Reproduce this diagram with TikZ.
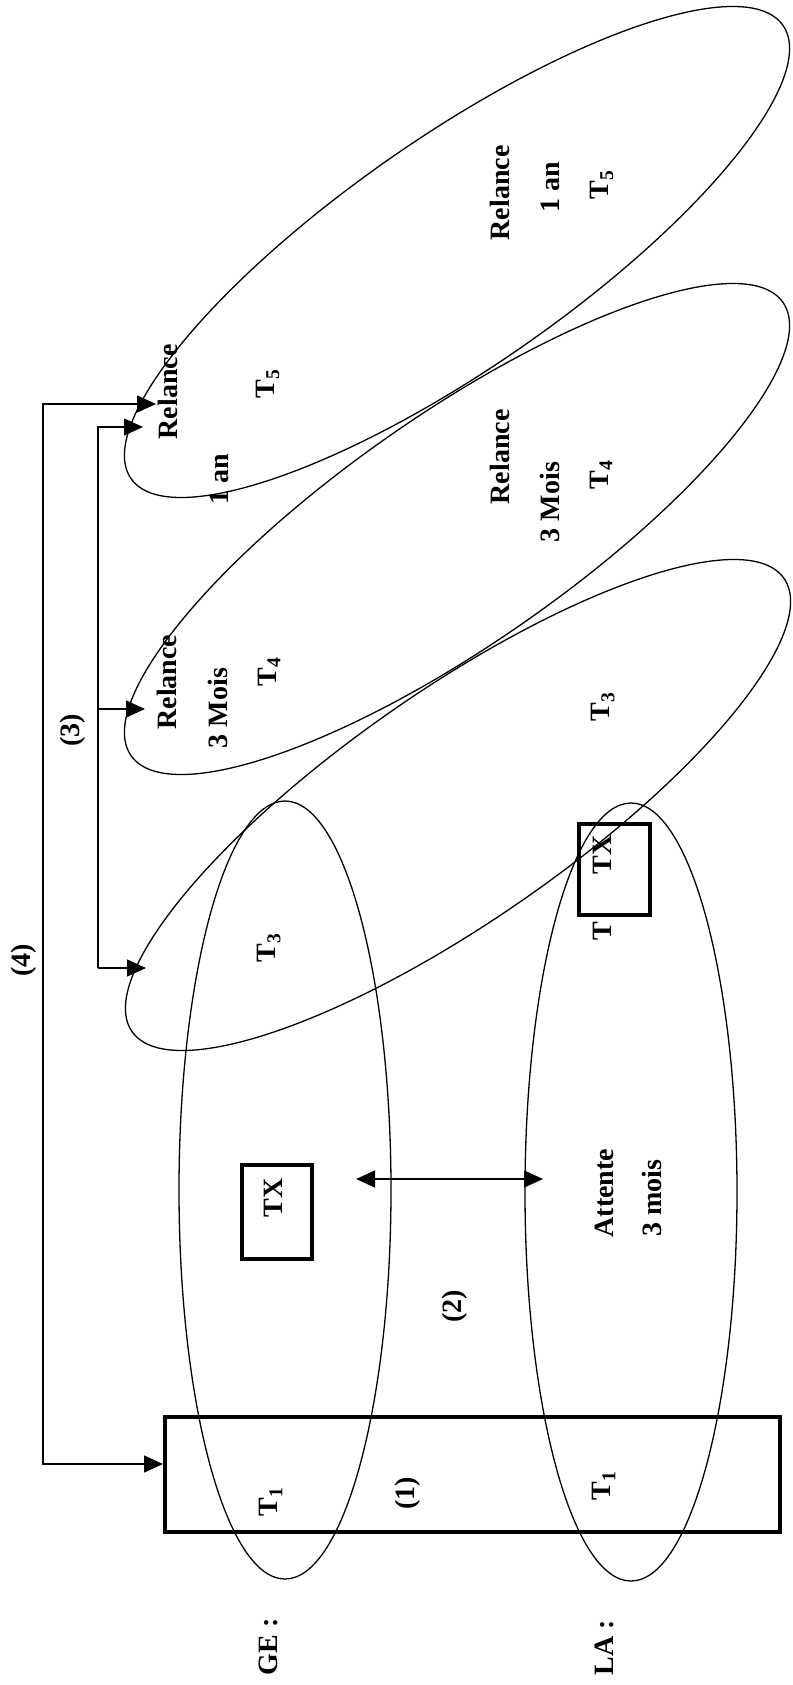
\documentclass[tikz,border=0pt]{standalone}
\usepackage{fontspec}
\setmainfont{Liberation Serif}
\usetikzlibrary{arrows.meta}
\begin{document}
\begin{tikzpicture}[x=1pt,y=-1pt,
  >={Triangle[length=19pt,width=17pt]},
  lbl/.style={font=\fontsize{28}{34}\selectfont\bfseries, rotate=90, inner sep=0pt},
  ell/.style={line width=1.3pt},
  conn/.style={line width=1.3pt},
  thickbox/.style={draw, line width=4pt, inner sep=0pt}]
\useasboundingbox (0,0) rectangle (792,1685);

% ellipses
\draw[ell, rotate around={34.8:(457,252)}] (457,252) ellipse [x radius=397, y radius=115];
\draw[ell, rotate around={34.8:(457,529)}] (457,529) ellipse [x radius=397, y radius=115];
\draw[ell, rotate around={34.8:(458,805)}] (458,805) ellipse [x radius=397, y radius=115];
\draw[ell] (285,1190) ellipse [x radius=106, y radius=389];
\draw[ell] (631,1192) ellipse [x radius=106, y radius=389];

% boxes
\node[thickbox, minimum width=615pt, minimum height=115pt] (t1box) at (472.5,1474.5) {};
\node[thickbox, minimum width=70pt, minimum height=94pt] (txboxge) at (277,1212) {};
\node[thickbox, minimum width=71pt, minimum height=91pt] (txboxla) at (614.5,869.5) {};

% texts
\node[lbl] (ge) at (268,1647) {GE :};
\node[lbl] (la) at (604,1648) {LA :};
\node[lbl] (t1ge) at (271,1502) {T\textsubscript{1}};
\node[lbl] (t1la) at (604,1486) {T\textsubscript{1}};
\node[lbl] (n1) at (408,1493) {(1)};
\node[lbl] (n2) at (455,1306) {(2)};
\node[lbl] (n3) at (73,730) {(3)};
\node[lbl] (n4) at (24,960) {(4)};
\node[lbl] (txge) at (273,1198) {TX};
\node[lbl] (att) at (604,1193) {Attente};
\node[lbl] (att3) at (652,1198) {3 mois};
\node[lbl] (t3ge) at (269,948) {T\textsubscript{3}};
\node[lbl] (txla) at (602,855) {TX};
\node[lbl] (tla) at (602,931) {T};
\node[lbl] (t3big) at (603,707) {T\textsubscript{3}};
\node[lbl] (rel4a) at (167,682) {Relance};
\node[lbl] (mois4a) at (218,708) {3 Mois};
\node[lbl] (t4a) at (269,672) {T\textsubscript{4}};
\node[lbl] (rel4b) at (500,457) {Relance};
\node[lbl] (mois4b) at (550,502) {3 Mois};
\node[lbl] (t4b) at (601,475) {T\textsubscript{4}};
\node[lbl] (rel5a) at (168,392) {Relance};
\node[lbl] (an5a) at (219,479) {1 an};
\node[lbl] (t5a) at (268,384) {T\textsubscript{5}};
\node[lbl] (rel5b) at (500,193) {Relance};
\node[lbl] (an5b) at (550,187) {1 an};
\node[lbl] (t5b) at (602,185) {T\textsubscript{5}};

% connector (4)
\coordinate (c4a) at (43,404);
\coordinate (c4b) at (43,1464);
\coordinate (e5l) at (156,404);
\draw[conn,<->] (e5l) -- (c4a) -- (c4b) -- (c4b -| t1box.west);

% connector (3)
\coordinate (c3a) at (98,427);
\coordinate (c3m) at (98,709);
\coordinate (c3b) at (98,968);
\coordinate (e5t) at (143,427);
\coordinate (e4t) at (145,709);
\coordinate (e3t) at (146,968);
\draw[conn,->] (c3b) -- (c3a) -- (e5t);
\draw[conn,->] (c3m) -- (e4t);
\draw[conn,->] (c3b) -- (e3t);

% connector (2)
\coordinate (a2l) at (356,1179);
\coordinate (a2r) at (543,1179);
\draw[conn,<->] (a2l) -- (a2r);
\end{tikzpicture}
\end{document}
